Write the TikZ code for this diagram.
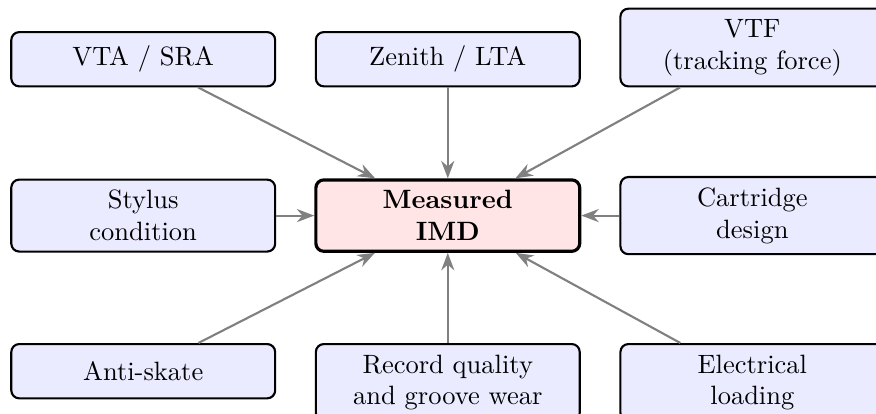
\documentclass[tikz,border=0pt]{standalone}
\usetikzlibrary{arrows.meta}

\tikzset{
  factor/.style={draw, thick, rounded corners=3pt, fill=blue!8, align=center,
    inner sep=4pt, minimum width=3.5cm, minimum height=0.72cm},
  result/.style={factor, very thick, fill=red!10, font=\bfseries},
  influence/.style={-{Stealth}, thick, gray}
}

\begin{document}
\begin{tikzpicture}
  \useasboundingbox (-5.94, -2.63) rectangle (5.68, 2.86);

  \node [result] (imd) at (0, 0) {Measured\\IMD};

  % top row hangs from its lower edge
  \node [factor, anchor=south] (vta)    at (-4.04, 1.70) {VTA / SRA};
  \node [factor, anchor=south] (zenith) at ( 0,    1.70) {Zenith / LTA};
  \node [factor, anchor=south] (vtf)    at ( 4.04, 1.70) {VTF\\(tracking force)};

  \node [factor] (stylus)    at (-4.04, 0) {Stylus\\condition};
  \node [factor] (cartridge) at ( 4.04, 0) {Cartridge\\design};

  % bottom row hangs from its upper edge
  \node [factor, anchor=north] (antiskate) at (-4.04, -1.69) {Anti-skate};
  \node [factor, anchor=north] (record)    at ( 0,    -1.69) {Record quality\\and groove wear};
  \node [factor, anchor=north] (loading)   at ( 4.04, -1.69) {Electrical\\loading};

  \foreach \src in {vta, zenith, vtf, stylus, cartridge, antiskate, record, loading}
    \draw [influence] (\src) -- (imd);
\end{tikzpicture}
\end{document}
